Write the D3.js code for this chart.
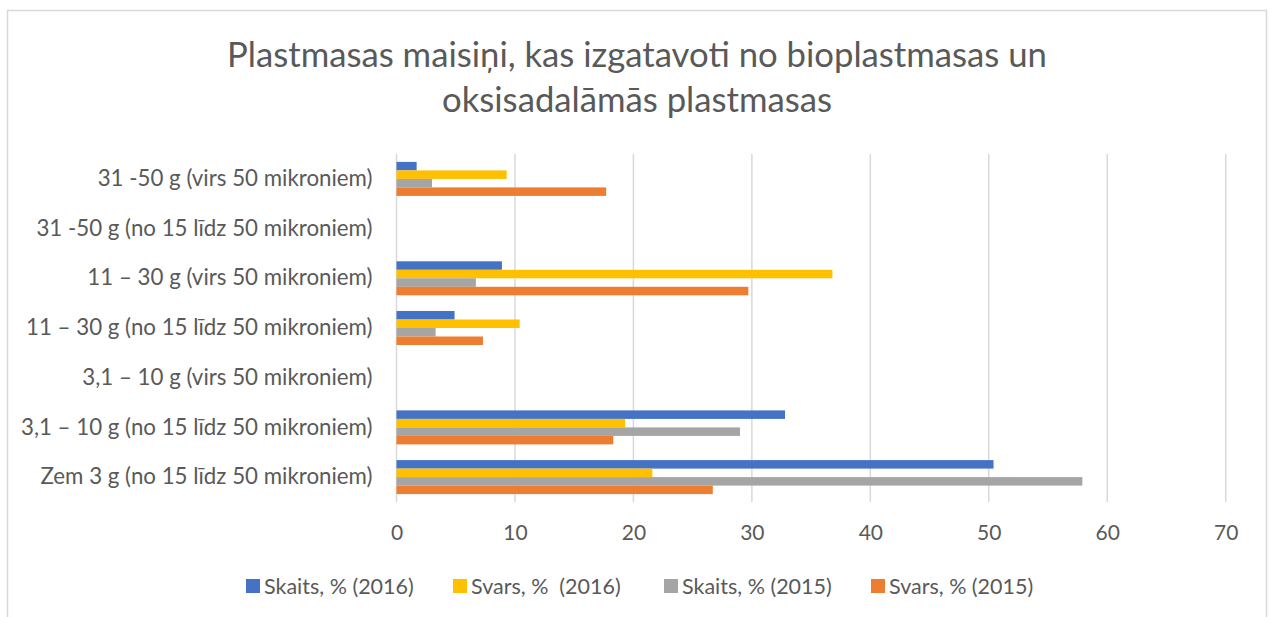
<!DOCTYPE html>
<html>
<head>
<meta charset="utf-8">
<script src="https://cdn.jsdelivr.net/npm/d3@7"></script>
<style>
  body { margin: 0; background: #fff; }
  text { font-family: Lato, "Open Sans", sans-serif; fill: #595959; }
</style>
</head>
<body>
<div id="chart"></div>
<script>
// categories, top to bottom
const categories = [
    "31 -50 g (virs 50 mikroniem)",
    "31 -50 g (no 15 līdz 50 mikroniem)",
    "11 – 30 g (virs 50 mikroniem)",
    "11 – 30 g (no 15 līdz 50 mikroniem)",
    "3,1 – 10 g (virs 50 mikroniem)",
    "3,1 – 10 g (no 15 līdz 50 mikroniem)",
    "Zem 3 g (no 15 līdz 50 mikroniem)"
];

const seriesNames = ["Skaits, % (2016)", "Svars, %  (2016)", "Skaits, % (2015)", "Svars, % (2015)"];
const seriesColors = ["#4472c4", "#ffc000", "#a5a5a5", "#ed7d31"];

// values per series, same order as categories
const skaits2016 = [1.7, 0, 8.9, 4.9, 0, 32.8, 50.4];
const svars2016 = [9.3, 0, 36.8, 10.4, 0, 19.3, 21.6];
const skaits2015 = [3.0, 0, 6.7, 3.3, 0, 29.0, 57.9];
const svars2015 = [17.7, 0, 29.7, 7.3, 0, 18.3, 26.7];

const xTicks = [0, 10, 20, 30, 40, 50, 60, 70];

const titleLines = ["Plastmasas maisiņi, kas izgatavoti no bioplastmasas un", "oksisadalāmās plastmasas"];

const allSeries = [skaits2016, svars2016, skaits2015, svars2015];

const width = 1271, height = 617;
const plot = { left: 396.5, right: 1225.7, top: 154, bottom: 502 };

const svg = d3.select("#chart")
    .append("svg")
    .attr("width", width)
    .attr("height", height);

// chart border
svg.append("rect")
    .attr("x", 7.5)
    .attr("y", 10.5)
    .attr("width", 1259)
    .attr("height", 640)
    .attr("fill", "none")
    .attr("stroke", "#d9d9d9")
    .attr("stroke-width", 1.5);

// title
svg.append("g")
    .selectAll("text")
    .data(titleLines)
    .enter()
    .append("text")
    .attr("x", 637)
    .attr("y", (d, i) => 67 + i * 45)
    .attr("text-anchor", "middle")
    .style("font-size", "34.7px")
    .text(d => d);

const x = d3.scaleLinear()
    .domain([0, 70])
    .range([plot.left, plot.right]);

const y = d3.scaleBand()
    .domain(categories)
    .range([plot.top, plot.bottom])
    .paddingInner(0.316)
    .paddingOuter(0.159);

const ySub = d3.scaleBand()
    .domain(d3.range(allSeries.length))
    .range([0, y.bandwidth()]);

// gridlines
svg.append("g")
    .selectAll("line")
    .data(xTicks)
    .enter()
    .append("line")
    .attr("x1", d => x(d))
    .attr("x2", d => x(d))
    .attr("y1", plot.top)
    .attr("y2", plot.bottom)
    .attr("stroke", "#d9d9d9")
    .attr("stroke-width", 1.5);

// x axis labels
const xAxis = svg.append("g")
    .attr("transform", "translate(0," + plot.bottom + ")")
    .call(d3.axisBottom(x).tickValues(xTicks).tickSize(0).tickPadding(23));
xAxis.select(".domain").remove();
xAxis.selectAll("text")
    .style("font-size", "21px")
    .attr("fill", "#595959");

// y axis labels
const yAxis = svg.append("g")
    .attr("transform", "translate(" + plot.left + ",0)")
    .call(d3.axisLeft(y).tickSize(0).tickPadding(24));
yAxis.select(".domain").remove();
yAxis.selectAll("text")
    .style("font-size", "22.3px")
    .attr("fill", "#595959");

// bars
allSeries.forEach(function(values, si) {
    svg.append("g")
        .selectAll("rect")
        .data(values)
        .enter()
        .append("rect")
        .attr("x", x(0))
        .attr("y", (d, i) => y(categories[i]) + ySub(si))
        .attr("width", d => x(d) - x(0))
        .attr("height", ySub.bandwidth())
        .attr("fill", seriesColors[si]);
});

// legend
const legendX = [246, 453, 664, 871];
const legend = svg.append("g")
    .selectAll("g")
    .data(seriesNames)
    .enter()
    .append("g")
    .attr("transform", (d, i) => "translate(" + legendX[i] + ",586)");

legend.append("rect")
    .attr("x", 0)
    .attr("y", -7)
    .attr("width", 14)
    .attr("height", 14)
    .attr("fill", (d, i) => seriesColors[i]);

legend.append("text")
    .attr("x", 18)
    .attr("y", 0)
    .attr("dy", "0.35em")
    .style("font-size", "21.5px")
    .style("white-space", "pre")
    .text(d => d);
</script>
</body>
</html>
